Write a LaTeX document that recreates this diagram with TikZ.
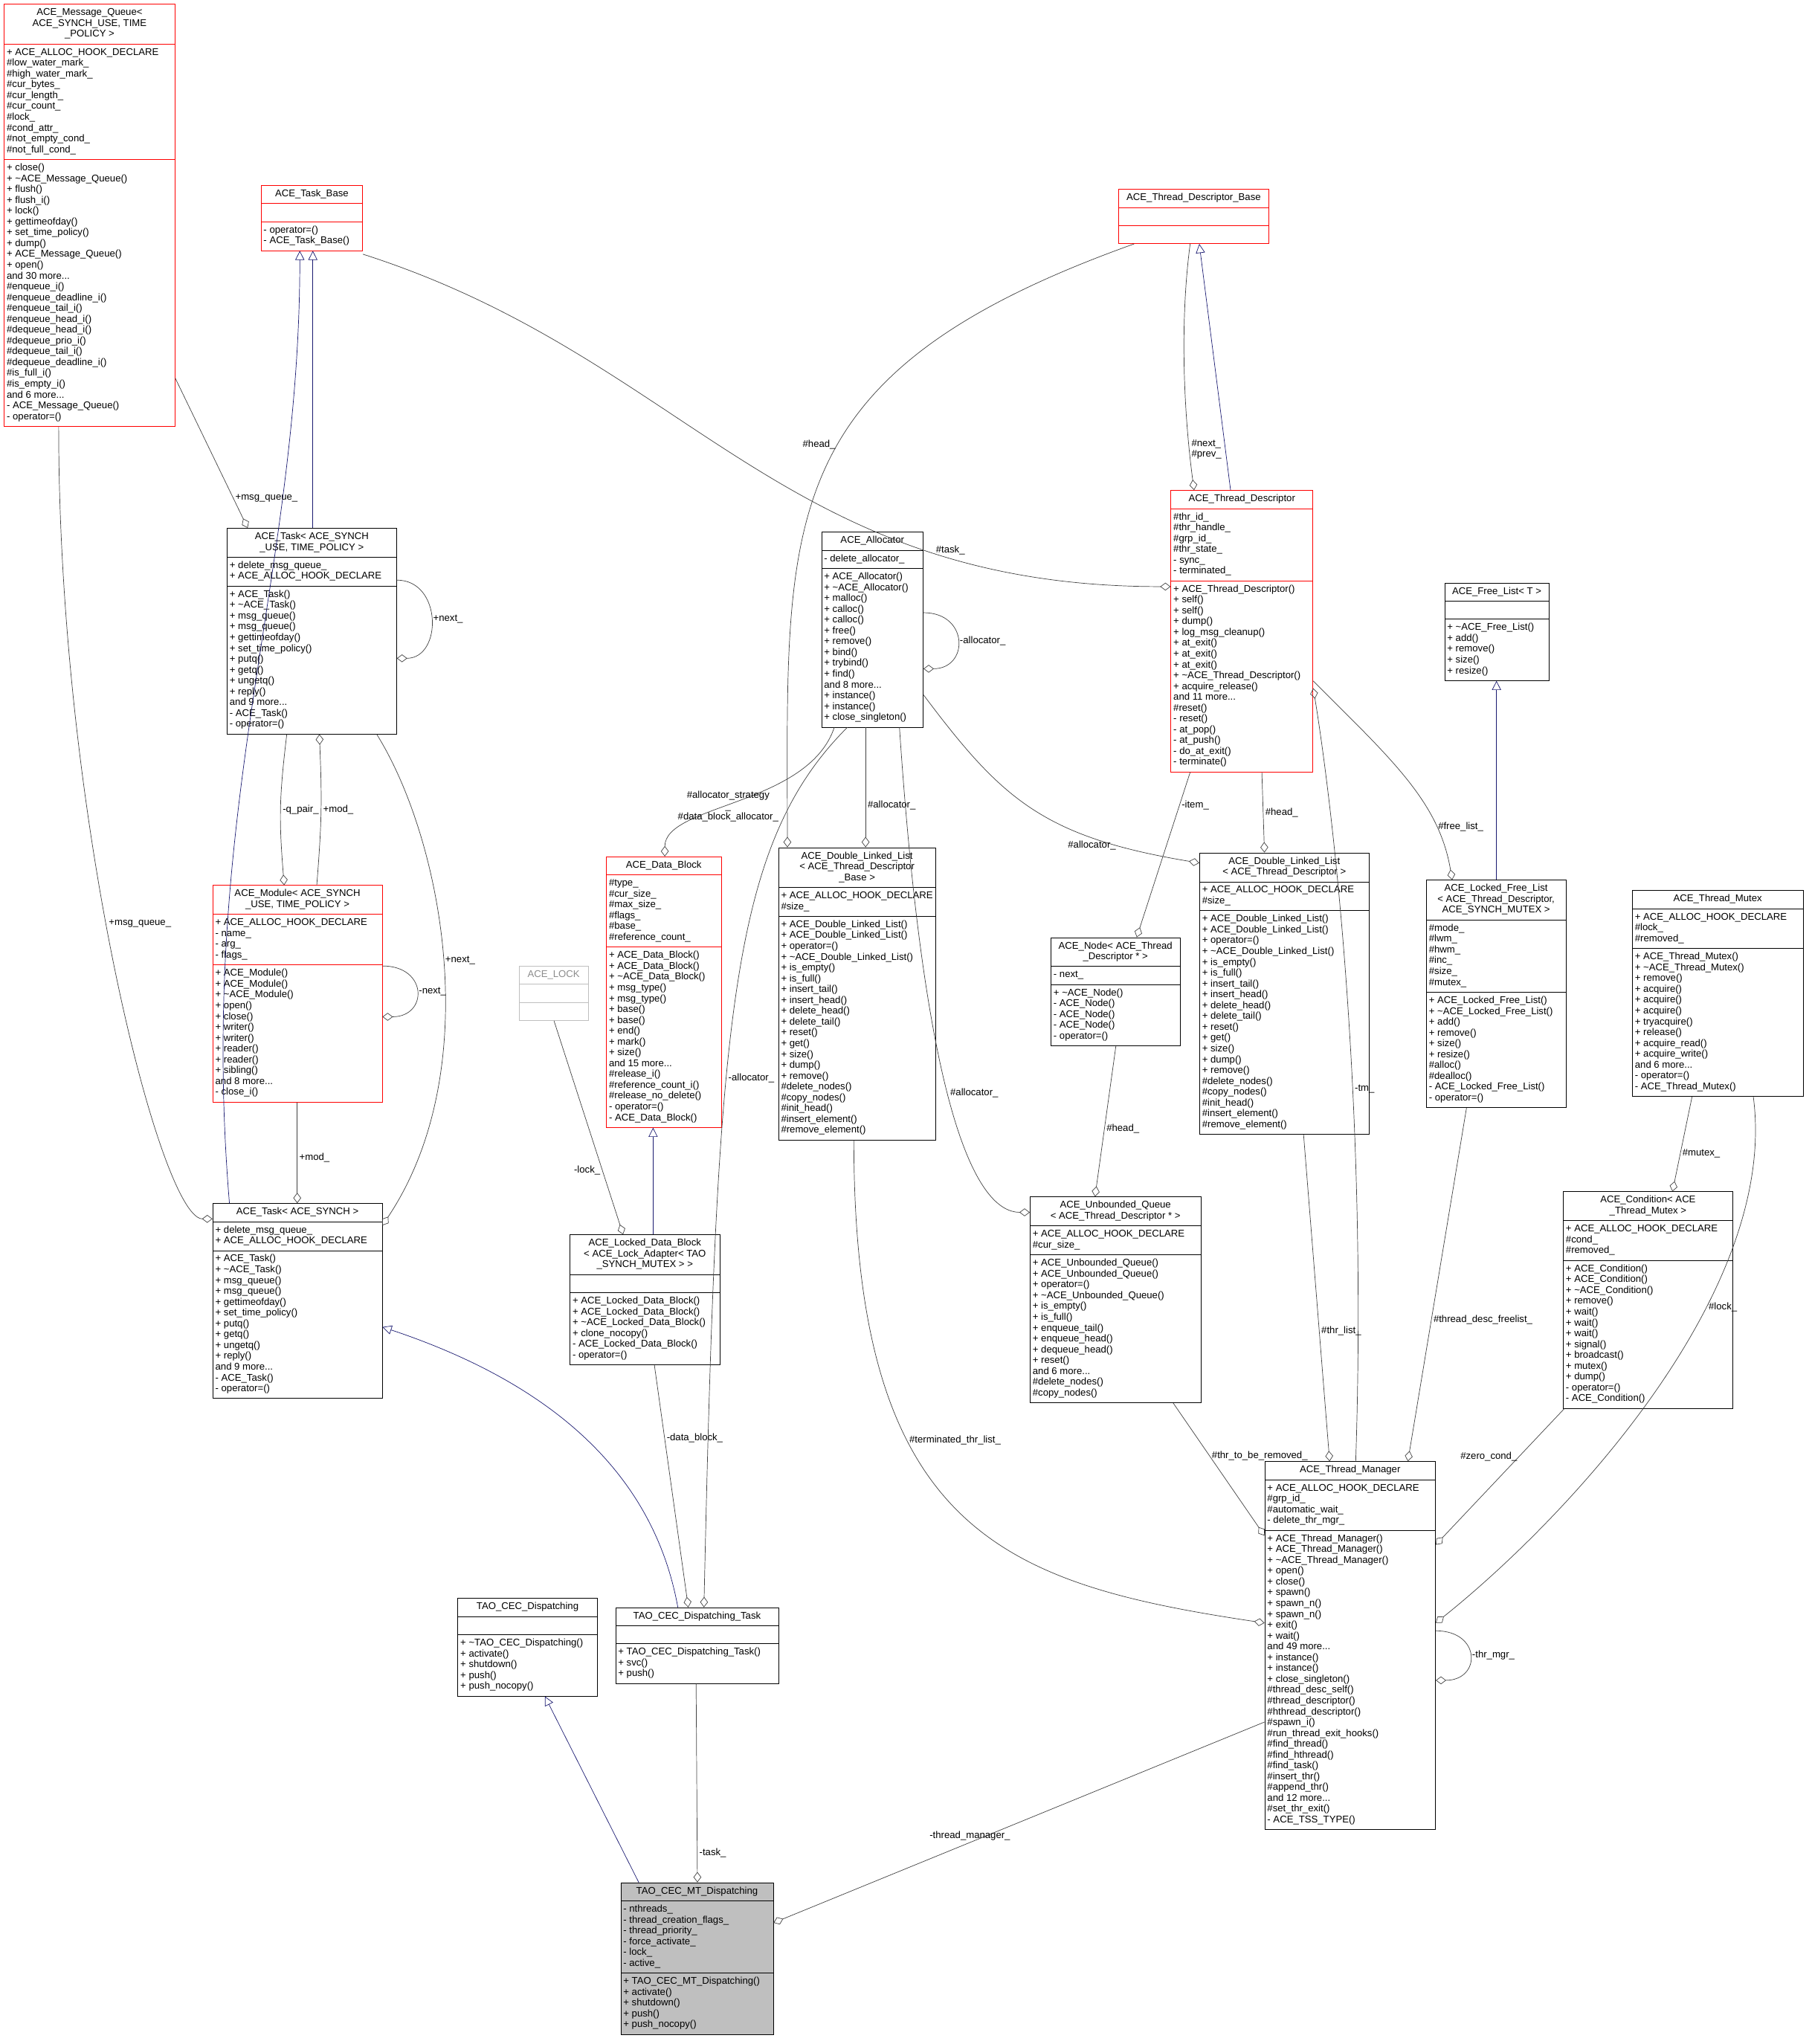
\documentclass[tikz,border=0pt]{standalone}
\usepackage{fontspec}
\setmainfont{Liberation Sans}
\usetikzlibrary{shapes.multipart, arrows.meta, calc}
\newcommand{\tl}{\textasciitilde}
\newcommand{\ttl}[1]{\begin{tabular}{@{}c@{}}#1\end{tabular}}
\newcommand{\lst}[1]{\begin{tabular}{@{}l@{}}#1\end{tabular}}
\AtBeginDocument{\catcode`\_=12}
\definecolor{inhblue}{RGB}{25,25,112}
\definecolor{linkgray}{RGB}{64,64,64}

\tikzset{
  cls/.style={rectangle split, rectangle split parts=3, draw=black, anchor=north west,
    rectangle split part align={center,left,left}, inner xsep=2pt, inner ysep=2.6pt,
    minimum width=#1, font=\fontsize{7.5}{8.3}\selectfont},
  redcls/.style={cls=#1, draw=red},
  inh/.style={draw=inhblue, -{Triangle[open, length=7pt, width=7pt]}},
  use/.style={draw=linkgray, -{Diamond[open, length=8pt, width=6pt]}},
  lbl/.style={font=\fontsize{7.5}{8.3}\selectfont, text=black, inner sep=1.5pt, align=center}
}

\begin{document}
\begin{tikzpicture}[x=1pt, y=-1pt]
\useasboundingbox (0,0) rectangle (1390,1568);
% classes
\node[redcls=131pt] (mq) at (3,3) {\ttl{ACE_Message_Queue<\\ ACE_SYNCH_USE, TIME\\ _POLICY >}
  \nodepart{two}\lst{+ ACE_ALLOC_HOOK_DECLARE\\ \#low_water_mark_\\ \#high_water_mark_\\ \#cur_bytes_\\ \#cur_length_\\ \#cur_count_\\ \#lock_\\ \#cond_attr_\\ \#not_empty_cond_\\ \#not_full_cond_}
  \nodepart{three}\lst{+ close()\\ + \tl ACE_Message_Queue()\\ + flush()\\ + flush_i()\\ + lock()\\ + gettimeofday()\\ + set_time_policy()\\ + dump()\\ + ACE_Message_Queue()\\ + open()\\ and 30 more...\\ \#enqueue_i()\\ \#enqueue_deadline_i()\\ \#enqueue_tail_i()\\ \#enqueue_head_i()\\ \#dequeue_head_i()\\ \#dequeue_prio_i()\\ \#dequeue_tail_i()\\ \#dequeue_deadline_i()\\ \#is_full_i()\\ \#is_empty_i()\\ and 6 more...\\ - ACE_Message_Queue()\\ - operator=()}};
\node[redcls=78pt] (tb) at (200,142) {\ttl{ACE_Task_Base}
  \nodepart{two}\strut
  \nodepart{three}\lst{- operator=()\\ - ACE_Task_Base()}};
\node[redcls=115pt] (tdb) at (858,145) {\ttl{ACE_Thread_Descriptor_Base}
  \nodepart{two}\strut
  \nodepart{three}\strut};
\node[cls=130pt] (tsu) at (174,405) {\ttl{ACE_Task< ACE_SYNCH\\ _USE, TIME_POLICY >}
  \nodepart{two}\lst{+ delete_msg_queue_\\ + ACE_ALLOC_HOOK_DECLARE}
  \nodepart{three}\lst{+ ACE_Task()\\ + \tl ACE_Task()\\ + msg_queue()\\ + msg_queue()\\ + gettimeofday()\\ + set_time_policy()\\ + putq()\\ + getq()\\ + ungetq()\\ + reply()\\ and 9 more...\\ - ACE_Task()\\ - operator=()}};
\node[cls=78pt] (al) at (630,408) {\ttl{ACE_Allocator}
  \nodepart{two}\lst{- delete_allocator_}
  \nodepart{three}\lst{+ ACE_Allocator()\\ + \tl ACE_Allocator()\\ + malloc()\\ + calloc()\\ + calloc()\\ + free()\\ + remove()\\ + bind()\\ + trybind()\\ + find()\\ and 8 more...\\ + instance()\\ + instance()\\ + close_singleton()}};
\node[redcls=109pt] (td) at (898,376) {\ttl{ACE_Thread_Descriptor}
  \nodepart{two}\lst{\#thr_id_\\ \#thr_handle_\\ \#grp_id_\\ \#thr_state_\\ - sync_\\ - terminated_}
  \nodepart{three}\lst{+ ACE_Thread_Descriptor()\\ + self()\\ + self()\\ + dump()\\ + log_msg_cleanup()\\ + at_exit()\\ + at_exit()\\ + at_exit()\\ + \tl ACE_Thread_Descriptor()\\ + acquire_release()\\ and 11 more...\\ \#reset()\\ - reset()\\ - at_pop()\\ - at_push()\\ - do_at_exit()\\ - terminate()}};
\node[cls=80pt] (fl) at (1108,447) {\ttl{ACE_Free_List< T >}
  \nodepart{two}\strut
  \nodepart{three}\lst{+ \tl ACE_Free_List()\\ + add()\\ + remove()\\ + size()\\ + resize()}};
\node[redcls=130pt] (mod) at (163,679) {\ttl{ACE_Module< ACE_SYNCH\\ _USE, TIME_POLICY >}
  \nodepart{two}\lst{+ ACE_ALLOC_HOOK_DECLARE\\ - name_\\ - arg_\\ - flags_}
  \nodepart{three}\lst{+ ACE_Module()\\ + ACE_Module()\\ + \tl ACE_Module()\\ + open()\\ + close()\\ + writer()\\ + writer()\\ + reader()\\ + reader()\\ + sibling()\\ and 8 more...\\ - close_i()}};
\node[cls=53pt, draw=black!25] (lk) at (398,741) {\ttl{\textcolor{black!45}{ACE_LOCK}}
  \nodepart{two}\strut
  \nodepart{three}\strut};
\node[redcls=88pt] (db) at (465,657) {\ttl{ACE_Data_Block}
  \nodepart{two}\lst{\#type_\\ \#cur_size_\\ \#max_size_\\ \#flags_\\ \#base_\\ \#reference_count_}
  \nodepart{three}\lst{+ ACE_Data_Block()\\ + ACE_Data_Block()\\ + \tl ACE_Data_Block()\\ + msg_type()\\ + msg_type()\\ + base()\\ + base()\\ + end()\\ + mark()\\ + size()\\ and 15 more...\\ \#release_i()\\ \#reference_count_i()\\ \#release_no_delete()\\ - operator=()\\ - ACE_Data_Block()}};
\node[cls=100pt] (dllb) at (597,650) {\ttl{ACE_Double_Linked_List\\ < ACE_Thread_Descriptor\\ _Base >}
  \nodepart{two}\lst{+ ACE_ALLOC_HOOK_DECLARE\\ \#size_}
  \nodepart{three}\lst{+ ACE_Double_Linked_List()\\ + ACE_Double_Linked_List()\\ + operator=()\\ + \tl ACE_Double_Linked_List()\\ + is_empty()\\ + is_full()\\ + insert_tail()\\ + insert_head()\\ + delete_head()\\ + delete_tail()\\ + reset()\\ + get()\\ + size()\\ + dump()\\ + remove()\\ \#delete_nodes()\\ \#copy_nodes()\\ \#init_head()\\ \#insert_element()\\ \#remove_element()}};
\node[cls=130pt] (dlltd) at (920,654) {\ttl{ACE_Double_Linked_List\\ < ACE_Thread_Descriptor >}
  \nodepart{two}\lst{+ ACE_ALLOC_HOOK_DECLARE\\ \#size_}
  \nodepart{three}\lst{+ ACE_Double_Linked_List()\\ + ACE_Double_Linked_List()\\ + operator=()\\ + \tl ACE_Double_Linked_List()\\ + is_empty()\\ + is_full()\\ + insert_tail()\\ + insert_head()\\ + delete_head()\\ + delete_tail()\\ + reset()\\ + get()\\ + size()\\ + dump()\\ + remove()\\ \#delete_nodes()\\ \#copy_nodes()\\ \#init_head()\\ \#insert_element()\\ \#remove_element()}};
\node[cls=99pt] (nd) at (806,719) {\ttl{ACE_Node< ACE_Thread\\ _Descriptor * >}
  \nodepart{two}\lst{- next_}
  \nodepart{three}\lst{+ \tl ACE_Node()\\ - ACE_Node()\\ - ACE_Node()\\ - ACE_Node()\\ - operator=()}};
\node[cls=107pt] (lfl) at (1094,675) {\ttl{ACE_Locked_Free_List\\ < ACE_Thread_Descriptor,\\ ACE_SYNCH_MUTEX >}
  \nodepart{two}\lst{\#mode_\\ \#lwm_\\ \#hwm_\\ \#inc_\\ \#size_\\ \#mutex_}
  \nodepart{three}\lst{+ ACE_Locked_Free_List()\\ + \tl ACE_Locked_Free_List()\\ + add()\\ + remove()\\ + size()\\ + resize()\\ \#alloc()\\ \#dealloc()\\ - ACE_Locked_Free_List()\\ - operator=()}};
\node[cls=131pt] (tmx) at (1252,683) {\ttl{ACE_Thread_Mutex}
  \nodepart{two}\lst{+ ACE_ALLOC_HOOK_DECLARE\\ \#lock_\\ \#removed_}
  \nodepart{three}\lst{+ ACE_Thread_Mutex()\\ + \tl ACE_Thread_Mutex()\\ + remove()\\ + acquire()\\ + acquire()\\ + acquire()\\ + tryacquire()\\ + release()\\ + acquire_read()\\ + acquire_write()\\ and 6 more...\\ - operator=()\\ - ACE_Thread_Mutex()}};
\node[cls=130pt] (ts) at (163,923) {\ttl{ACE_Task< ACE_SYNCH >}
  \nodepart{two}\lst{+ delete_msg_queue_\\ + ACE_ALLOC_HOOK_DECLARE}
  \nodepart{three}\lst{+ ACE_Task()\\ + \tl ACE_Task()\\ + msg_queue()\\ + msg_queue()\\ + gettimeofday()\\ + set_time_policy()\\ + putq()\\ + getq()\\ + ungetq()\\ + reply()\\ and 9 more...\\ - ACE_Task()\\ - operator=()}};
\node[cls=115pt] (ldb) at (437,947) {\ttl{ACE_Locked_Data_Block\\ < ACE_Lock_Adapter< TAO\\ _SYNCH_MUTEX > >}
  \nodepart{two}\strut
  \nodepart{three}\lst{+ ACE_Locked_Data_Block()\\ + ACE_Locked_Data_Block()\\ + \tl ACE_Locked_Data_Block()\\ + clone_nocopy()\\ - ACE_Locked_Data_Block()\\ - operator=()}};
\node[cls=131pt] (uq) at (790,918) {\ttl{ACE_Unbounded_Queue\\ < ACE_Thread_Descriptor * >}
  \nodepart{two}\lst{+ ACE_ALLOC_HOOK_DECLARE\\ \#cur_size_}
  \nodepart{three}\lst{+ ACE_Unbounded_Queue()\\ + ACE_Unbounded_Queue()\\ + operator=()\\ + \tl ACE_Unbounded_Queue()\\ + is_empty()\\ + is_full()\\ + enqueue_tail()\\ + enqueue_head()\\ + dequeue_head()\\ + reset()\\ and 6 more...\\ \#delete_nodes()\\ \#copy_nodes()}};
\node[cls=130pt] (cnd) at (1199,914) {\ttl{ACE_Condition< ACE\\ _Thread_Mutex >}
  \nodepart{two}\lst{+ ACE_ALLOC_HOOK_DECLARE\\ \#cond_\\ \#removed_}
  \nodepart{three}\lst{+ ACE_Condition()\\ + ACE_Condition()\\ + \tl ACE_Condition()\\ + remove()\\ + wait()\\ + wait()\\ + wait()\\ + signal()\\ + broadcast()\\ + mutex()\\ + dump()\\ - operator=()\\ - ACE_Condition()}};
\node[cls=131pt] (tm) at (970,1121) {\ttl{ACE_Thread_Manager}
  \nodepart{two}\lst{+ ACE_ALLOC_HOOK_DECLARE\\ \#grp_id_\\ \#automatic_wait_\\ - delete_thr_mgr_}
  \nodepart{three}\lst{+ ACE_Thread_Manager()\\ + ACE_Thread_Manager()\\ + \tl ACE_Thread_Manager()\\ + open()\\ + close()\\ + spawn()\\ + spawn_n()\\ + spawn_n()\\ + exit()\\ + wait()\\ and 49 more...\\ + instance()\\ + instance()\\ + close_singleton()\\ \#thread_desc_self()\\ \#thread_descriptor()\\ \#hthread_descriptor()\\ \#spawn_i()\\ \#run_thread_exit_hooks()\\ \#find_thread()\\ \#find_hthread()\\ \#find_task()\\ \#insert_thr()\\ \#append_thr()\\ and 12 more...\\ \#set_thr_exit()\\ - ACE_TSS_TYPE()}};
\node[cls=107pt] (tcd) at (351,1226) {\ttl{TAO_CEC_Dispatching}
  \nodepart{two}\strut
  \nodepart{three}\lst{+ \tl TAO_CEC_Dispatching()\\ + activate()\\ + shutdown()\\ + push()\\ + push_nocopy()}};
\node[cls=125pt] (dt) at (472,1233) {\ttl{TAO_CEC_Dispatching_Task}
  \nodepart{two}\strut
  \nodepart{three}\lst{+ TAO_CEC_Dispatching_Task()\\ + svc()\\ + push()}};
\node[cls=117pt, fill=black!25] (mt) at (476,1444) {\ttl{TAO_CEC_MT_Dispatching}
  \nodepart{two}\lst{- nthreads_\\ - thread_creation_flags_\\ - thread_priority_\\ - force_activate_\\ - lock_\\ - active_}
  \nodepart{three}\lst{+ TAO_CEC_MT_Dispatching()\\ + activate()\\ + shutdown()\\ + push()\\ + push_nocopy()}};

% inheritance
\draw[inh] ([shift={(66,0)}]tsu.north west) -- ([shift={(40,0)}]tb.south west);
\draw[inh] ([shift={(13,0)}]ts.north west) .. controls +(-25,-300) and +(0,250) .. ([shift={(30,0)}]tb.south west);
\draw[inh] ([shift={(46,0)}]td.north west) -- ([shift={(62,0)}]tdb.south west);
\draw[inh] ([shift={(54,0)}]lfl.north west) -- ([shift={(40,0)}]fl.south west);
\draw[inh] ([shift={(64,0)}]ldb.north west) -- ([shift={(36,0)}]db.south west);
\draw[inh] ([shift={(48,0)}]dt.north west) .. controls +(-20,-110) and +(120,40) .. ([shift={(0,95)}]ts.north east);
\draw[inh] ([shift={(14,0)}]mt.north west) -- ([shift={(67,0)}]tcd.south west);

% usage
\draw[use] ([shift={(0,287)}]mq.north east) -- node[lbl, pos=.8, right] {+msg_queue_} ([shift={(16,0)}]tsu.north west);
\draw[use] ([shift={(42,0)}]mq.south west) .. controls +(0,300) and +(-40,0) .. node[lbl, pos=.45, right] {+msg_queue_} ([shift={(0,12)}]ts.north west);
\draw[use] ([shift={(0,53)}]tb.north east) .. controls +(250,80) and +(-300,0) .. node[lbl, pos=.78, above] {\#task_} ([shift={(0,74)}]td.north west);
\draw[use] ([shift={(0,40)}]tsu.north east) .. controls +(35,0) and +(35,0) .. node[lbl, right] {+next_} ([shift={(0,100)}]tsu.north east);
\draw[use] ([shift={(46,0)}]tsu.south west) .. controls +(-6,50) and +(-4,-50) .. node[lbl, pos=.5, right] {-q_pair_} ([shift={(55,0)}]mod.north west);
\draw[use] ([shift={(80,0)}]mod.north west) .. controls +(4,-50) and +(2,50) .. node[lbl, pos=.5, right] {+mod_} ([shift={(71,0)}]tsu.south west);
\draw[use] ([shift={(0,62)}]mod.north east) .. controls +(35,0) and +(35,0) .. node[lbl, right] {-next_} ([shift={(0,101)}]mod.north east);
\draw[use] ([shift={(65,0)}]mod.south west) -- node[lbl, pos=.55, right] {+mod_} ([shift={(65,0)}]ts.north west);
\draw[use] ([shift={(115,0)}]tsu.south west) .. controls +(50,80) and +(80,-120) .. node[lbl, pos=.5, right] {+next_} ([shift={(0,17)}]ts.north east);
\draw[use] ([shift={(12,0)}]tdb.south west) .. controls +(-280,100) and +(0,-250) .. node[lbl, pos=.45, left] {\#head_} ([shift={(7,0)}]dllb.north west);
\draw[use] ([shift={(55,0)}]tdb.south west) .. controls +(-8,60) and +(-8,-60) .. node[lbl, pos=.83, right, align=left] {\#next_\\\#prev_} ([shift={(18,0)}]td.north west);
\draw[use] ([shift={(0,62)}]al.north east) .. controls +(35,0) and +(35,0) .. node[lbl, right] {-allocator_} ([shift={(0,105)}]al.north east);
\draw[use] ([shift={(10,0)}]al.south west) .. controls +(-20,60) and +(0,-40) .. node[lbl, pos=.55] {\#allocator_strategy\\_\\\#data_block_allocator_} ([shift={(45,0)}]db.north west);
\draw[use] ([shift={(34,0)}]al.south west) -- node[lbl, pos=.65, right] {\#allocator_} ([shift={(67,0)}]dllb.north west);
\draw[use] ([shift={(20,0)}]al.south west) .. controls +(-90,90) and +(10,-450) .. node[lbl, pos=.6, right] {-allocator_} ([shift={(68,0)}]dt.north west);
\draw[use] ([shift={(60,0)}]al.south west) .. controls +(20,300) and +(-40,0) .. node[lbl, pos=.45, right] {\#allocator_} ([shift={(0,12)}]uq.north west);
\draw[use] ([shift={(0,-25)}]al.south east) .. controls +(60,80) and +(-120,-20) .. node[lbl, pos=.8, left] {\#allocator_} ([shift={(0,8)}]dlltd.north west);
\draw[use] ([shift={(15,0)}]td.south west) -- node[lbl, pos=.2, right] {-item_} ([shift={(66,0)}]nd.north west);
\draw[use] ([shift={(70,0)}]td.south west) -- node[lbl, pos=.5, right] {\#head_} ([shift={(50,0)}]dlltd.north west);
\draw[use] ([shift={(0,-70)}]td.south east) .. controls +(60,60) and +(-10,-60) .. node[lbl, pos=.75, right] {\#free_list_} ([shift={(20,0)}]lfl.north west);
\draw[use] ([shift={(70,0)}]tm.north west) .. controls +(10,-300) and +(10,60) .. node[lbl, pos=.35, right] {-tm_} ([shift={(0,152)}]td.north east);
\draw[use] ([shift={(50,0)}]nd.south west) -- node[lbl, pos=.55, right] {\#head_} ([shift={(50,0)}]uq.north west);
\draw[use] ([shift={(27,0)}]lk.south west) -- node[lbl, pos=.7, left] {-lock_} ([shift={(41,0)}]ldb.north west);
\draw[use] ([shift={(58,0)}]dllb.south west) .. controls +(0,300) and +(-200,-30) .. node[lbl, pos=.35, right] {\#terminated_thr_list_} ([shift={(0,124)}]tm.north west);
\draw[use] ([shift={(80,0)}]dlltd.south west) -- node[lbl, pos=.6, right] {\#thr_list_} ([shift={(50,0)}]tm.north west);
\draw[use] ([shift={(31,0)}]lfl.south west) -- node[lbl, pos=.6, right] {\#thread_desc_freelist_} ([shift={(110,0)}]tm.north west);
\draw[use] ([shift={(110,0)}]uq.south west) -- node[lbl, pos=.4, right] {\#thr_to_be_removed_} ([shift={(0,57)}]tm.north west);
\draw[use] ([shift={(46,0)}]tmx.south west) -- node[lbl, pos=.6, right] {\#mutex_} ([shift={(84,0)}]cnd.north west);
\draw[use] ([shift={(93,0)}]tmx.south west) .. controls +(20,150) and +(100,-80) .. node[lbl, pos=.35, right] {\#lock_} ([shift={(0,124)}]tm.north east);
\draw[use] ([shift={(1,0)}]cnd.south west) -- node[lbl, pos=.35, left] {\#zero_cond_} ([shift={(0,64)}]tm.north east);
\draw[use] ([shift={(0,130)}]tm.north east) .. controls +(35,0) and +(35,0) .. node[lbl, right] {-thr_mgr_} ([shift={(0,168)}]tm.north east);
\draw[use] ([shift={(65,0)}]ldb.south west) -- node[lbl, pos=.3, right] {-data_block_} ([shift={(56,0)}]dt.north west);
\draw[use] ([shift={(62,0)}]dt.south west) -- node[lbl, pos=.85, right] {-task_} ([shift={(59,0)}]mt.north west);
\draw[use] ([shift={(0,200)}]tm.north west) -- node[lbl, pos=.6, above] {-thread_manager_} ([shift={(0,31)}]mt.north east);
\end{tikzpicture}
\end{document}
